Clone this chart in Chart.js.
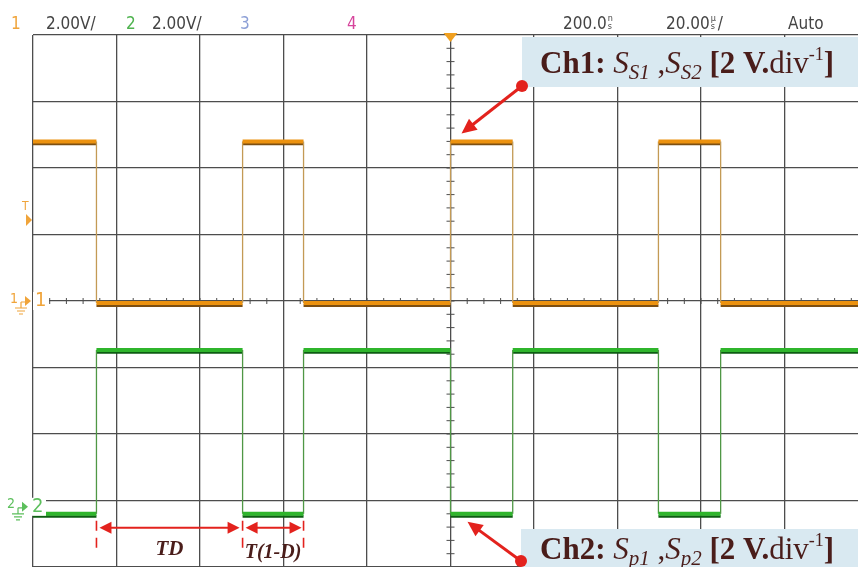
<!DOCTYPE html>
<html lang="en">
<head>
  <meta charset="UTF-8">
  <title>Scope capture - Ch1 / Ch2 gate signals</title>
  <script src="https://cdn.jsdelivr.net/npm/chart.js"></script>
  <style>
    html, body { margin: 0; padding: 0; background: #fff; overflow: hidden; }
    #wrap { width: 858px; height: 567px; position: relative; }
  </style>
</head>
<body>
  <div id="wrap"><canvas id="scope"></canvas></div>

  <script>
    // switching instants in µs (20 µs/div, 0 = trigger point)
    const edgeTimes = [-100, -84.8, -49.8, -35.2, 0, 14.9, 49.8, 64.7, 97.6];
    // level held between two consecutive edges, in volts (2 V/div)
    const ch1Levels = [4.8, -0.06, 4.8, -0.06, 4.8, -0.06, 4.8, -0.06];
    const ch2Levels = [-6.4, -1.47, -6.4, -1.47, -6.4, -1.47, -6.4, -1.47];
    // graticule
    const timeTicks = [-100, -80, -60, -40, -20, 0, 20, 40, 60, 80];
    const voltTicks = [-8, -6, -4, -2, 0, 2, 4, 6, 8];

    const SERIF = '"Liberation Serif", "DejaVu Serif", serif';
    const NARROW = '"Liberation Sans Narrow", "DejaVu Sans Condensed", "Liberation Sans", sans-serif';

    // square wave as explicit corner points
    function wave(levels, shift) {
      const pts = [];
      levels.forEach((v, i) => {
        pts.push({ x: edgeTimes[i], y: v + shift });
        pts.push({ x: edgeTimes[i + 1], y: v + shift });
      });
      return pts;
    }
    const isEdge = c => c.p0.parsed.x === c.p1.parsed.x;

    function trace(data, flat, edge, wFlat, wEdge, order) {
      return {
        data: data,
        borderColor: flat,
        borderWidth: wFlat,
        pointRadius: 0,
        tension: 0,
        order: order,
        segment: {
          borderWidth: c => isEdge(c) ? wEdge : wFlat,
          borderColor: c => isEdge(c) ? edge : flat
        }
      };
    }

    // --- drawing helpers ---
    function textRuns(ctx, x, y, parts) {
      parts.forEach(p => {
        ctx.font = p.f;
        ctx.fillText(p.t, x, y + (p.dy || 0));
        x += ctx.measureText(p.t).width;
      });
    }

    function labelParts(ch, a, b) {
      const big = 31, sub = 21;
      return [
        { t: ch + ': ', f: 'bold ' + big + 'px ' + SERIF },
        { t: 'S', f: 'italic ' + big + 'px ' + SERIF },
        { t: a, f: 'italic ' + sub + 'px ' + SERIF, dy: 6 },
        { t: ' ,', f: big + 'px ' + SERIF },
        { t: 'S', f: 'italic ' + big + 'px ' + SERIF },
        { t: b, f: 'italic ' + sub + 'px ' + SERIF, dy: 6 },
        { t: ' [2 V.', f: 'bold ' + big + 'px ' + SERIF },
        { t: 'div', f: big + 'px ' + SERIF },
        { t: '-1', f: '18px ' + SERIF, dy: -13 },
        { t: ']', f: 'bold ' + big + 'px ' + SERIF }
      ];
    }

    function pointerArrow(ctx, x1, y1, x2, y2) {
      const a = Math.atan2(y2 - y1, x2 - x1);
      const hl = 15, hw = 7;
      ctx.strokeStyle = '#e3221d';
      ctx.fillStyle = '#e3221d';
      ctx.lineWidth = 3;
      ctx.beginPath();
      ctx.moveTo(x1, y1);
      ctx.lineTo(x2 - Math.cos(a) * hl * 0.8, y2 - Math.sin(a) * hl * 0.8);
      ctx.stroke();
      ctx.beginPath();
      ctx.moveTo(x2, y2);
      ctx.lineTo(x2 - Math.cos(a) * hl - Math.sin(a) * hw, y2 - Math.sin(a) * hl + Math.cos(a) * hw);
      ctx.lineTo(x2 - Math.cos(a) * hl + Math.sin(a) * hw, y2 - Math.sin(a) * hl - Math.cos(a) * hw);
      ctx.closePath();
      ctx.fill();
      ctx.beginPath();
      ctx.arc(x1, y1, 6, 0, Math.PI * 2);
      ctx.fill();
    }

    function doubleArrow(ctx, x1, x2, y) {
      const hl = 12, hw = 6;
      ctx.strokeStyle = '#e3221d';
      ctx.fillStyle = '#e3221d';
      ctx.lineWidth = 2;
      ctx.beginPath();
      ctx.moveTo(x1 + hl - 2, y);
      ctx.lineTo(x2 - hl + 2, y);
      ctx.stroke();
      ctx.beginPath();
      ctx.moveTo(x1, y); ctx.lineTo(x1 + hl, y - hw); ctx.lineTo(x1 + hl, y + hw); ctx.closePath();
      ctx.moveTo(x2, y); ctx.lineTo(x2 - hl, y - hw); ctx.lineTo(x2 - hl, y + hw); ctx.closePath();
      ctx.fill();
    }

    function dashedMark(ctx, x, y1, y2) {
      ctx.save();
      ctx.strokeStyle = '#e3221d';
      ctx.lineWidth = 1.6;
      ctx.setLineDash([10, 7]);
      ctx.beginPath();
      ctx.moveTo(x, y1);
      ctx.lineTo(x, y2);
      ctx.stroke();
      ctx.restore();
    }

    function groundMark(ctx, x, y, color, small, big) {
      ctx.fillStyle = '#fff';
      ctx.fillRect(x + 23, y - 9, 16, 18);
      ctx.fillStyle = color;
      ctx.strokeStyle = color;
      ctx.textBaseline = 'middle';
      ctx.textAlign = 'left';
      ctx.font = '14px ' + NARROW;
      ctx.fillText(small, x, y - 2);
      ctx.lineWidth = 1.2;
      ctx.beginPath();
      ctx.moveTo(x + 11, y + 1); ctx.lineTo(x + 16, y + 1);
      ctx.moveTo(x + 11, y + 1); ctx.lineTo(x + 11, y + 7);
      ctx.moveTo(x + 5, y + 7); ctx.lineTo(x + 17, y + 7);
      ctx.moveTo(x + 7, y + 10); ctx.lineTo(x + 15, y + 10);
      ctx.moveTo(x + 9, y + 13); ctx.lineTo(x + 13, y + 13);
      ctx.stroke();
      ctx.beginPath();
      ctx.moveTo(x + 15, y - 5); ctx.lineTo(x + 21, y); ctx.lineTo(x + 15, y + 5);
      ctx.closePath();
      ctx.fill();
      ctx.font = '20px ' + NARROW;
      ctx.fillText(big, x + 25, y);
    }

    const scopeDecor = {
      id: 'scopeDecor',
      beforeDatasetsDraw(chart) {
        const ctx = chart.ctx;
        const xs = chart.scales.x, ys = chart.scales.y;
        const area = chart.chartArea;
        const cx = xs.getPixelForValue(0), cy = ys.getPixelForValue(0);
        const stepX = (xs.getPixelForValue(20) - cx) / 5;
        const stepY = (cy - ys.getPixelForValue(2)) / 5;
        ctx.save();
        ctx.strokeStyle = '#4d4d4d';
        ctx.lineWidth = 1;
        ctx.beginPath();
        for (let x = area.left; x <= area.right; x += stepX) {
          ctx.moveTo(x, cy - 3); ctx.lineTo(x, cy + 3);
        }
        for (let y = area.top; y <= area.bottom; y += stepY) {
          ctx.moveTo(cx - 4, y); ctx.lineTo(cx + 4, y);
        }
        ctx.stroke();
        ctx.restore();
      },
      afterDraw(chart) {
        const ctx = chart.ctx;
        const xs = chart.scales.x, ys = chart.scales.y;
        const area = chart.chartArea;
        ctx.save();

        // header bar
        ctx.textBaseline = 'alphabetic';
        ctx.textAlign = 'left';
        ctx.font = '17px ' + NARROW;
        const hy = 29;
        ctx.fillStyle = '#f0a43a'; ctx.fillText('1', 11, hy);
        ctx.fillStyle = '#444'; ctx.fillText('2.00V/', 46, hy);
        ctx.fillStyle = '#4fb34f'; ctx.fillText('2', 126, hy);
        ctx.fillStyle = '#444'; ctx.fillText('2.00V/', 152, hy);
        ctx.fillStyle = '#8c9fd6'; ctx.fillText('3', 240, hy);
        ctx.fillStyle = '#d6449c'; ctx.fillText('4', 347, hy);
        ctx.fillStyle = '#444';
        ctx.fillText('200.0', 563, hy);
        let w = ctx.measureText('200.0').width;
        ctx.font = '9px ' + NARROW;
        ctx.fillText('n', 564 + w, hy - 8);
        ctx.fillText('s', 564 + w, hy);
        ctx.font = '17px ' + NARROW;
        ctx.fillText('20.00', 666, hy);
        w = ctx.measureText('20.00').width;
        ctx.font = '9px ' + NARROW;
        ctx.fillText('\u00b5', 667 + w, hy - 8);
        ctx.fillText('s', 667 + w, hy);
        ctx.font = '17px ' + NARROW;
        ctx.fillText('/', 674 + w, hy);
        ctx.fillText('Auto', 788, hy);

        // trigger position marker
        const cx = xs.getPixelForValue(0);
        ctx.fillStyle = '#f0a020';
        ctx.beginPath();
        ctx.moveTo(cx - 7, area.top - 2); ctx.lineTo(cx + 7, area.top - 2); ctx.lineTo(cx, area.top + 7);
        ctx.closePath(); ctx.fill();

        // trigger level marker
        ctx.fillStyle = '#f0a43a';
        ctx.font = '12px ' + NARROW;
        ctx.fillText('T', 22, 210);
        ctx.beginPath();
        ctx.moveTo(26, 214); ctx.lineTo(32, 220); ctx.lineTo(26, 226);
        ctx.closePath(); ctx.fill();

        // channel ground markers
        groundMark(ctx, 10, ys.getPixelForValue(0), '#f0a43a', '1', '1');
        groundMark(ctx, 7, ys.getPixelForValue(ch2Levels[0]) - 7, '#5cbf5c', '2', '2');

        // label boxes
        ctx.fillStyle = '#d9e9f1';
        ctx.fillRect(522, 37, 336, 50);
        ctx.fillRect(521, 529, 337, 38);
        ctx.fillStyle = '#4a1d1a';
        ctx.textBaseline = 'alphabetic';
        textRuns(ctx, 540, 73, labelParts('Ch1', 'S1', 'S2'));
        textRuns(ctx, 540, 559, labelParts('Ch2', 'p1', 'p2'));

        // pointers to the traces
        pointerArrow(ctx, 522, 86, cx + 11, ys.getPixelForValue(ch1Levels[0]) - 8);
        pointerArrow(ctx, 521, 561, cx + 17, ys.getPixelForValue(ch2Levels[0]) + 8);

        // TD and T(1-D) dimensions
        const e1 = xs.getPixelForValue(edgeTimes[1]);
        const e2 = xs.getPixelForValue(edgeTimes[2]);
        const e3 = xs.getPixelForValue(edgeTimes[3]);
        const yLow = ys.getPixelForValue(ch2Levels[0]);
        dashedMark(ctx, e1, yLow + 7, yLow + 41);
        dashedMark(ctx, e2, yLow + 7, yLow + 41);
        dashedMark(ctx, e3, yLow + 7, yLow + 41);
        doubleArrow(ctx, e1 + 3, e2 - 3, yLow + 14);
        doubleArrow(ctx, e2 + 3, e3 - 2, yLow + 14);
        ctx.fillStyle = '#4a1d1a';
        ctx.textAlign = 'center';
        ctx.font = 'bold italic 21px ' + SERIF;
        ctx.fillText('TD', (e1 + e2) / 2, yLow + 41);
        ctx.font = 'bold italic 20px ' + SERIF;
        ctx.fillText('T(1-D)', (e2 + e3) / 2, yLow + 44);

        ctx.restore();
      }
    };

    const ctx = document.getElementById('scope').getContext('2d');
    new Chart(ctx, {
      type: 'line',
      data: {
        datasets: [
          trace(wave(ch1Levels, -0.08), '#7d4f12', 'rgba(0,0,0,0)', 2.5, 0.1, 4),
          trace(wave(ch1Levels, 0), '#ec920f', '#c39a55', 4, 1.3, 3),
          trace(wave(ch2Levels, -0.08), '#0d5c12', 'rgba(0,0,0,0)', 2.5, 0.1, 2),
          trace(wave(ch2Levels, 0), '#2fb52c', '#4f9745', 4, 1.3, 1)
        ]
      },
      options: {
        responsive: true,
        maintainAspectRatio: false,
        animation: false,
        layout: { padding: { left: 33, top: 35, right: 0, bottom: 0 } },
        plugins: {
          legend: { display: false },
          tooltip: { enabled: false }
        },
        scales: {
          x: {
            type: 'linear',
            min: edgeTimes[0],
            max: edgeTimes[edgeTimes.length - 1],
            afterBuildTicks: axis => { axis.ticks = timeTicks.map(v => ({ value: v })); },
            ticks: { display: false },
            border: { display: false },
            grid: { color: '#4d4d4d', lineWidth: 1.3, drawTicks: false }
          },
          y: {
            type: 'linear',
            min: voltTicks[0],
            max: voltTicks[voltTicks.length - 1],
            afterBuildTicks: axis => { axis.ticks = voltTicks.map(v => ({ value: v })); },
            ticks: { display: false },
            border: { display: false },
            grid: { color: '#4d4d4d', lineWidth: 1.3, drawTicks: false }
          }
        }
      },
      plugins: [scopeDecor]
    });
  </script>
</body>
</html>
